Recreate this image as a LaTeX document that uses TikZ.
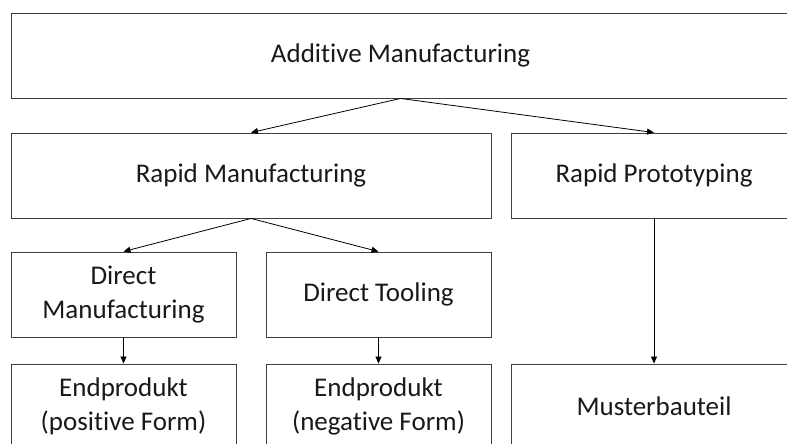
\documentclass[tikz,border=0pt]{standalone}
\usepackage{fontspec}
\setmainfont{Carlito}[Ligatures=NoCommon]
\usetikzlibrary{arrows.meta}
\begin{document}
\begin{tikzpicture}[x=1pt,y=-1pt]
\tikzstyle{every node}+=[inner sep=0pt]
\tikzstyle{box}=[draw=black!75, line width=0.9pt, align=center, text=black!90, font=\fontsize{27}{34}\selectfont]
\tikzstyle{link}=[black, line width=0.8pt, -{Triangle[length=7pt,width=6pt]}]
\useasboundingbox (0,0) rectangle (787,444);
\clip (0,0) rectangle (787,444);
\node [box, minimum width=779pt, minimum height=85pt] (am) at (400.5,55.5) {Additive Manufacturing};
\node [box, minimum width=480pt, minimum height=85pt] (rm) at (251,175.5) {Rapid Manufacturing};
\node [box, minimum width=286pt, minimum height=85pt] (rp) at (654,175.5) {Rapid Prototyping};
\node [box, minimum width=225pt, minimum height=85pt] (dm) at (123.5,294.5) {Direct\\Manufacturing};
\node [box, minimum width=225pt, minimum height=85pt] (dt) at (378.5,294.5) {Direct Tooling};
\node [box, minimum width=225pt, minimum height=85pt] (ep) at (123.5,406.5) {Endprodukt\\(positive Form)};
\node [box, minimum width=225pt, minimum height=85pt] (en) at (378.5,406.5) {Endprodukt\\(negative Form)};
\node [box, minimum width=286pt, minimum height=85pt] (mb) at (654,406.5) {Musterbauteil};
\draw [link] (am.south) -- (rm.north);
\draw [link] (am.south) -- (rp.north);
\draw [link] (rm.south) -- (dm.north);
\draw [link] (rm.south) -- (dt.north);
\draw [link] (dm.south) -- (ep.north);
\draw [link] (dt.south) -- (en.north);
\draw [link] (rp.south) -- (mb.north);
\end{tikzpicture}
\end{document}
